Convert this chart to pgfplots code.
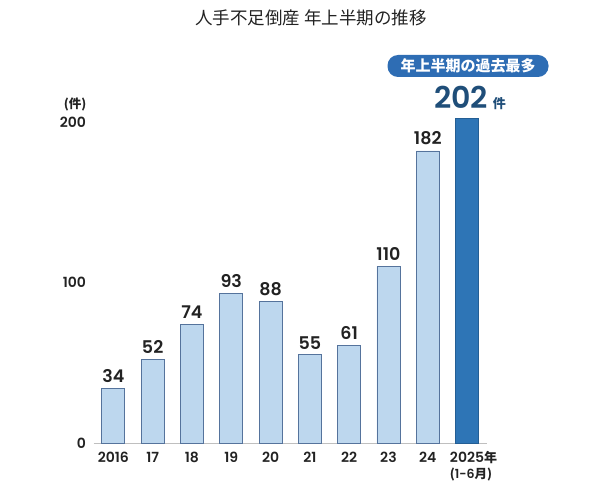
\documentclass[border=0pt]{standalone}
\usepackage{fontspec}
\setmainfont{Poppins}[BoldFont={Poppins SemiBold}]
\newfontfamily\cjk{Noto Sans CJK JP}
\usepackage{pgfplots}
\pgfplotsset{compat=1.18}
\definecolor{barlight}{HTML}{BDD7EE}
\definecolor{baredge}{HTML}{55739C}
\definecolor{bardark}{HTML}{2E75B6}
\definecolor{bardarkedge}{HTML}{245E94}
\definecolor{badge}{HTML}{2E6DB4}
\definecolor{bignum}{HTML}{1F4E79}
\definecolor{txt}{HTML}{222222}
\begin{document}
\begin{tikzpicture}
\useasboundingbox (0,0) rectangle (599pt,493pt);
\begin{axis}[
  at={(93.7pt,50pt)}, anchor=south west,
  scale only axis, width=393pt, height=337pt,
  xmin=-0.5, xmax=9.5, ymin=0, ymax=210,
  axis x line=bottom, axis y line=left,
  x axis line style={draw=black!25, line width=1pt, -},
  y axis line style={draw=none},
  major tick style={draw=none},
  xtick={0,...,9},
  xticklabels={2016,17,18,19,20,21,22,23,24,{2025\rlap{\cjk\fontsize{13}{14}\selectfont\bfseries 年}\\[1pt]\hspace*{8pt}{\fontsize{12.5}{13}\selectfont{\cjk (}1-6{\cjk 月)}}}},
  xticklabel style={font=\fontsize{14}{15}\selectfont\bfseries, text=txt, align=center, anchor=north, yshift=-1pt},
  ytick={0,100,200},
  yticklabel style={font=\fontsize{14}{15}\selectfont\bfseries, text=txt, anchor=east, xshift=-2pt},
  /pgf/number format/assume math mode=true,
  ybar, bar width=23pt, bar shift=0pt,
  clip=false,
  nodes near coords,
  nodes near coords style={font=\fontsize{17.5}{19}\selectfont\bfseries, text=txt, anchor=south, yshift=2pt},
]
\addplot[fill=barlight, draw=baredge, line width=0.8pt] coordinates {
  (0,34) (1,52) (2,74) (3,93) (4,88) (5,55) (6,61) (7,110) (8,182)
};
\addplot[fill=bardark, draw=bardarkedge, line width=0.8pt, nodes near coords={}] coordinates {
  (9,202)
};
\end{axis}
\node[font=\cjk\fontsize{17.5}{19}\selectfont, text=txt] at (311pt,475pt) {人手不足倒産\ 年上半期の推移};
\node[font=\cjk\fontsize{12.5}{14}\selectfont\bfseries, text=txt] at (75pt,389pt) {(件)};
\node[fill=badge, rounded corners=10.5pt, minimum width=161pt, minimum height=22pt, inner sep=0pt,
      font=\cjk\fontsize{15}{16}\selectfont\bfseries, text=white] at (468pt,427pt) {年上半期の過去最多};
\node[text=bignum, inner sep=0pt] at (470pt,395pt) {\fontsize{30}{31}\selectfont\bfseries 202\,{\cjk\fontsize{13}{14}\selectfont\bfseries 件}};
\end{tikzpicture}
\end{document}
